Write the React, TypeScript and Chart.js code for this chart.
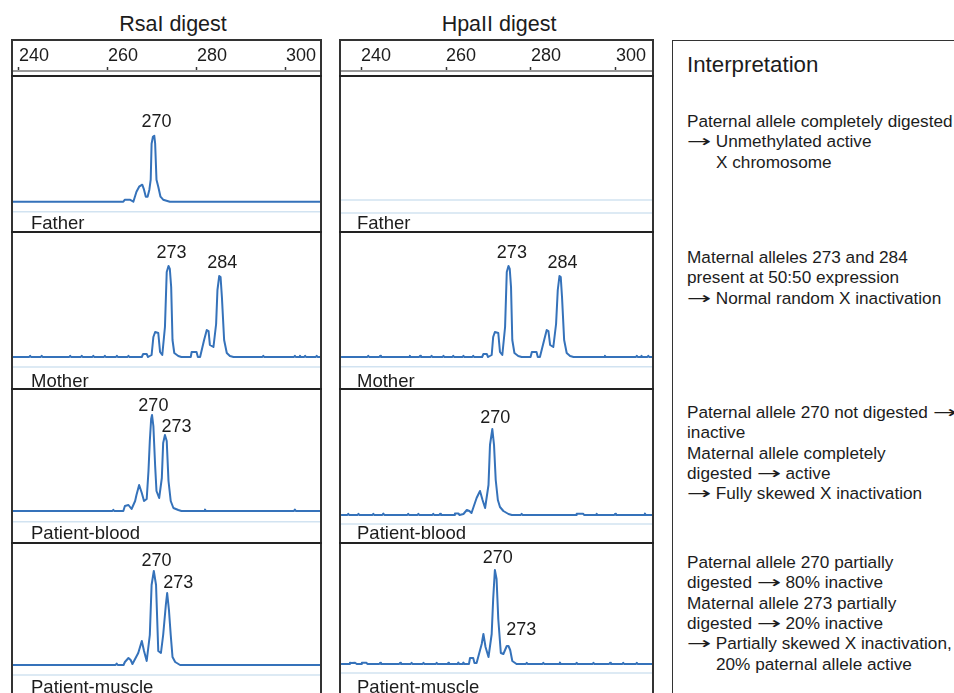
import React, { useEffect, useRef } from 'react';
import { Chart, registerables } from 'chart.js';

Chart.register(...registerables);

type Pt = [number, number];
type PeakLabel = { text: string; bp: number; rfu: number };

// ---------------- data ----------------
const TICKS = [240, 260, 280, 300];
const DIGESTS = ['RsaI digest', 'HpaII digest'];
const SAMPLES = ['Father', 'Mother', 'Patient-blood', 'Patient-muscle'];

// fragment size (bp) vs. signal height, RsaI digest
const rsaFather: Pt[] = [
  [238.4, 0], [263.45, 0], [263.8, 2], [264.9, 2], [265.7, 0], [266.4, 10], [267.0, 15], [267.7, 17],
  [268.1, 12], [268.5, 5], [268.9, 5], [269.3, 12], [269.6, 22], [269.8, 58], [270.1, 65], [270.4, 66],
  [270.6, 58], [270.9, 22], [271.3, 15], [271.8, 5], [272.4, 2], [273.9, 0], [307.9, 0],
];
const rsaMother: Pt[] = [
  [238.4, 0], [242.3, 0], [242.5, 1.2], [242.7, 0], [244.9, 0], [245.1, 1.2], [245.3, 0],
  [251.3, 0], [251.5, 1.2], [251.7, 0], [253.9, 0], [254.1, 1.2], [254.3, 0], [256.5, 0], [256.7, 1.2], [256.9, 0],
  [259.1, 0], [259.3, 1.2], [259.5, 0], [261.8, 0], [262.0, 1.2], [262.2, 0], [264.4, 0], [264.6, 1.2], [264.8, 0],
  [267.6, 0], [267.9, 3], [268.7, 3], [269.0, 0],
  [269.8, 2], [270.2, 20], [270.6, 25], [271.3, 24], [271.7, 5], [272.2, 2], [272.8, 30], [273.2, 85], [273.6, 91],
  [273.9, 88], [274.2, 70], [274.5, 17], [274.9, 4], [275.8, 1], [276.5, 0],
  [278.6, 0], [278.8, 5], [279.9, 5], [280.2, 0], [280.7, 0],
  [281.6, 17], [282.2, 27], [282.6, 26], [282.9, 12], [283.7, 10], [284.3, 33], [284.6, 67], [285.0, 81], [285.3, 80],
  [285.6, 60], [286.1, 17], [286.7, 4], [287.4, 1], [288.2, 0],
  [294.7, 0], [294.9, 1.2], [295.1, 0], [301.8, 0], [302.0, 1.2], [302.2, 0], [303.0, 0], [303.15, 1.2], [303.3, 0],
  [304.1, 0], [304.3, 1.2], [304.5, 0], [306.7, 0], [306.9, 1.2], [307.1, 0], [307.9, 0],
];
const rsaBlood: Pt[] = [
  [238.4, 0], [261.0, 0], [261.2, 1.2], [261.4, 0], [263.45, 0], [263.8, 5], [264.6, 6], [265.3, 2], [266.1, 10],
  [266.4, 16], [267.0, 26], [267.6, 18], [268.1, 10], [268.7, 12], [269.1, 40], [269.4, 70], [269.7, 92], [269.9, 96],
  [270.2, 85], [270.6, 45], [270.9, 20], [271.5, 13], [272.1, 33], [272.4, 68], [272.8, 76], [273.2, 70], [273.6, 30],
  [274.1, 10], [274.7, 3], [275.8, 1], [276.5, 0], [281.6, 0], [281.8, 1.5], [282.0, 0], [301.8, 0], [302.0, 1.5],
  [302.2, 0], [307.9, 0],
];
const rsaMuscle: Pt[] = [
  [238.4, 0], [261.7, 0], [261.95, 1.5], [262.2, 0], [263.5, 0], [263.8, 3], [264.6, 7], [265.1, 5], [265.5, 1],
  [266.8, 12], [267.6, 24], [268.1, 14], [268.7, 4], [269.4, 30], [269.8, 80], [270.3, 94], [270.8, 80], [271.3, 14],
  [271.9, 12], [272.4, 30], [273.0, 60], [273.3, 72], [273.7, 55], [274.1, 30], [274.5, 8], [275.1, 3], [276.2, 0],
  [307.9, 0],
];

// HpaII digest
const hpaFather: Pt[] = [[235.3, 0], [308.7, 0]];
const hpaMother: Pt[] = [
  [235.3, 0], [241.5, 0], [241.7, 1.2], [241.9, 0], [244.3, 0], [244.5, 1.2], [244.7, 0], [251.3, 0], [251.5, 1.2],
  [251.7, 0], [253.7, 0], [253.9, 1.2], [254.1, 0], [256.4, 0], [256.6, 1.2], [256.8, 0], [259.2, 0], [259.4, 1.2],
  [259.6, 0], [261.5, 0], [261.7, 1.2], [261.9, 0], [263.9, 0], [264.1, 1.2], [264.3, 0], [266.2, 0], [266.4, 1.2],
  [266.6, 0], [268.5, 0], [268.8, 3], [269.6, 3], [269.9, 0],
  [270.75, 2], [271.1, 20], [271.5, 25], [272.3, 24], [272.7, 5], [273.25, 2], [273.9, 30], [274.3, 85], [274.7, 91],
  [275.0, 88], [275.3, 70], [275.6, 17], [276.1, 4], [277.0, 1], [277.8, 0],
  [279.9, 0], [280.2, 5], [281.3, 5], [281.6, 0], [282.1, 0],
  [283.1, 17], [283.7, 27], [284.1, 26], [284.5, 12], [285.25, 10], [285.9, 33], [286.3, 67], [286.7, 81], [287.0, 80],
  [287.3, 60], [287.8, 17], [288.4, 4], [289.2, 1], [290.0, 0],
  [297.2, 0], [297.4, 1.2], [297.6, 0], [304.7, 0], [304.9, 1.2], [305.1, 0], [305.9, 0], [306.0, 1.2], [306.2, 0],
  [307.4, 0], [307.6, 1.2], [307.8, 0], [308.7, 0],
];
const hpaBlood: Pt[] = [
  [235.3, 0], [236.8, 0], [237.0, 1.2], [237.2, 0], [239.2, 0], [239.4, 1.2], [239.6, 0], [242.7, 0], [242.9, 1.2],
  [243.1, 0], [245.0, 0], [245.25, 1.5], [245.5, 0], [250.9, 0], [251.1, 1.2], [251.3, 0], [253.3, 0], [253.5, 1.2],
  [253.7, 0], [256.8, 0], [257.0, 1.2], [257.2, 0], [258.4, 0], [258.6, 1.2], [258.8, 0], [261.9, 0], [262.1, 1.5],
  [262.9, 1.5], [263.2, 0], [264.1, 1], [264.9, 5], [265.5, 4], [266.0, 2], [267.2, 17], [268.0, 24], [268.6, 15],
  [269.2, 7], [270.0, 30], [270.35, 70], [270.9, 86], [271.3, 70], [271.7, 35], [272.2, 15], [272.7, 8], [273.5, 4],
  [274.7, 1], [275.5, 0], [277.6, 0], [277.8, 1.2], [278.0, 0], [290.6, 0], [290.75, 1.2], [291.5, 1.2], [292.3, 1.2],
  [292.5, 0], [295.3, 0], [295.45, 1.2], [295.6, 0], [299.6, 0], [299.8, 1.2], [300.0, 0], [306.6, 0], [306.8, 1.5],
  [307.0, 0], [308.7, 0],
];
const hpaMuscle: Pt[] = [
  [235.3, 0], [237.2, 0], [237.4, 1.2], [237.8, 1], [238.6, 1.2], [239.0, 0], [240.0, 0], [240.2, 1.2], [241.3, 1.2],
  [241.5, 0], [244.3, 0], [244.5, 1.2], [244.7, 0], [249.0, 0], [249.2, 1.2], [249.4, 0], [251.7, 0], [251.9, 1.2],
  [252.1, 0], [254.5, 0], [254.7, 1.2], [254.9, 0], [257.6, 0], [257.8, 1.2], [258.0, 0], [260.4, 0], [260.55, 1.2],
  [260.7, 0], [262.7, 0], [262.9, 1.5], [263.1, 0], [263.9, 0], [264.1, 1.5], [264.3, 0], [265.4, 0], [265.65, 6],
  [266.4, 6], [266.7, 1], [267.2, 1], [268.4, 20], [268.8, 30], [269.3, 17], [270.0, 7], [270.75, 30], [271.1, 65],
  [271.5, 94], [271.9, 85], [272.3, 45], [272.9, 11], [273.5, 10], [274.3, 18], [274.7, 18], [275.1, 14], [275.6, 3],
  [276.6, 0], [278.8, 0], [279.0, 1.2], [279.2, 0], [282.7, 0], [282.9, 1.2], [283.1, 0], [286.6, 0], [286.8, 1.5],
  [287.0, 0], [290.5, 0], [290.75, 1.2], [291.0, 0], [294.5, 0], [294.7, 1.2], [294.9, 0], [298.4, 0], [298.6, 1.2],
  [298.8, 0], [301.5, 0], [301.7, 1.2], [301.9, 0], [304.7, 0], [304.9, 1.2], [305.1, 0], [308.7, 0],
];

const rsaTraces = [rsaFather, rsaMother, rsaBlood, rsaMuscle];
const hpaTraces = [hpaFather, hpaMother, hpaBlood, hpaMuscle];

const rsaPeakLabels: PeakLabel[][] = [
  [{ text: '270', bp: 270.9, rfu: 80 }],
  [{ text: '273', bp: 274.3, rfu: 104 }, { text: '284', bp: 285.7, rfu: 94 }],
  [{ text: '270', bp: 270.2, rfu: 105 }, { text: '273', bp: 275.4, rfu: 84 }],
  [{ text: '270', bp: 270.9, rfu: 104 }, { text: '273', bp: 275.8, rfu: 82 }],
];
const hpaPeakLabels: PeakLabel[][] = [
  [],
  [{ text: '273', bp: 275.5, rfu: 104 }, { text: '284', bp: 287.4, rfu: 94 }],
  [{ text: '270', bp: 271.6, rfu: 97 }],
  [{ text: '270', bp: 272.2, rfu: 106 }, { text: '273', bp: 277.7, rfu: 34 }],
];

const INTERP_TITLE = 'Interpretation';
const INTERP_BLOCKS: [string, boolean][][] = [
  [['Paternal allele completely digested', false], ['→ Unmethylated active', false], ['X chromosome', true]],
  [['Maternal alleles 273 and 284', false], ['present at 50:50 expression', false], ['→ Normal random X inactivation', false]],
  [
    ['Paternal allele 270 not digested →', false], ['inactive', false], ['Maternal allele completely', false],
    ['digested → active', false], ['→ Fully skewed X inactivation', false],
  ],
  [
    ['Paternal allele 270 partially', false], ['digested → 80% inactive', false], ['Maternal allele 273 partially', false],
    ['digested → 20% inactive', false], ['→ Partially skewed X inactivation,', false], ['20% paternal allele active', true],
  ],
];

// ---------------- layout / style ----------------
const FONT = '"Liberation Sans", Arial, Helvetica, sans-serif';
const TEXT = '#1c1c1c';
const BLUE = '#3572ba';
const GHOST = '#d2e3f1';
const FRAME = '#333333';

const ROWS = [76, 232, 389, 543, 700];
const NAME_Y = [223, 381, 533, 687];
const COLS = [
  {
    left: 12, width: 309, xMin: 238.43, xMax: 307.87, titleX: 173, frameLeft: 11, frameWidth: 311, nameX: 31,
    baselines: [201.7, 357, 511, 665], ghost: [-10, -10, -10.7, -10], faint: [false, false, false, false],
    traces: rsaTraces, labels: rsaPeakLabels,
  },
  {
    left: 341, width: 312, xMin: 235.29, xMax: 308.71, titleX: 499, frameLeft: 339, frameWidth: 315, nameX: 357,
    baselines: [200, 357, 515, 664], ghost: [-13, -9.7, -9, -9], faint: [true, false, false, false],
    traces: hpaTraces, labels: hpaPeakLabels,
  },
];
const BLOCK_Y = [121, 257, 412, 562];
const LINE_STEP = 20.3;

const peakLabelPlugin = {
  id: 'peakLabels',
  afterDatasetsDraw(chart: any, _args: any, opts: any) {
    const { ctx } = chart;
    const x = chart.scales.x;
    const y = chart.scales.y;
    ctx.save();
    ctx.font = `18px ${FONT}`;
    ctx.fillStyle = TEXT;
    ctx.textAlign = 'center';
    ctx.textBaseline = 'middle';
    for (const l of (opts.items || []) as PeakLabel[]) {
      ctx.fillText(l.text, x.getPixelForValue(l.bp), y.getPixelForValue(l.rfu));
    }
    ctx.restore();
  },
};

function TracePanel(props: {
  left: number; top: number; width: number; height: number; xMin: number; xMax: number;
  yMin: number; yMax: number; trace: Pt[]; ghostY: number; faint: boolean; labels: PeakLabel[];
}) {
  const ref = useRef<HTMLCanvasElement>(null);
  useEffect(() => {
    const p = props;
    const chart = new Chart(ref.current as HTMLCanvasElement, {
      type: 'line',
      data: {
        datasets: [
          {
            data: p.trace.map(([bp, v]) => ({ x: bp, y: v })),
            borderColor: p.faint ? GHOST : BLUE,
            borderWidth: p.faint ? 1.5 : 2,
            pointRadius: 0,
            tension: 0,
            borderJoinStyle: 'round',
          },
          {
            data: [{ x: p.xMin, y: p.ghostY }, { x: p.xMax, y: p.ghostY }],
            borderColor: GHOST,
            borderWidth: 1.5,
            pointRadius: 0,
          },
        ],
      },
      options: {
        animation: false,
        responsive: true,
        maintainAspectRatio: false,
        events: [],
        layout: { padding: 0 },
        plugins: {
          legend: { display: false },
          tooltip: { enabled: false },
          peakLabels: { items: p.labels },
        } as any,
        scales: {
          x: { type: 'linear', display: false, min: p.xMin, max: p.xMax },
          y: { type: 'linear', display: false, min: p.yMin, max: p.yMax },
        },
      },
      plugins: [peakLabelPlugin as any],
    });
    return () => chart.destroy();
  }, []);
  return (
    <div style={{ position: 'absolute', left: props.left, top: props.top, width: props.width, height: props.height }}>
      <canvas ref={ref} style={{ display: 'block' }} />
    </div>
  );
}

function AxisHeader(props: { left: number; width: number; xMin: number; xMax: number }) {
  const ref = useRef<HTMLCanvasElement>(null);
  useEffect(() => {
    const p = props;
    const chart = new Chart(ref.current as HTMLCanvasElement, {
      type: 'line',
      data: { datasets: [{ data: [] }] },
      options: {
        animation: false,
        responsive: true,
        maintainAspectRatio: false,
        events: [],
        layout: { padding: 0 },
        plugins: { legend: { display: false }, tooltip: { enabled: false } },
        scales: {
          x: {
            type: 'linear',
            position: 'top',
            min: p.xMin,
            max: p.xMax,
            afterBuildTicks: (s: any) => {
              s.ticks = TICKS.map((v) => ({ value: v }));
            },
            afterFit: (s: any) => {
              s.height = 31;
            },
            ticks: {
              align: 'start',
              padding: 0,
              maxRotation: 0,
              autoSkip: false,
              color: TEXT,
              font: { family: FONT, size: 18 },
            },
            grid: { drawOnChartArea: false, drawTicks: true, tickLength: 4, tickColor: '#333', tickWidth: 1.5 },
            border: { display: true, color: '#9a9a9a', width: 2 },
          } as any,
          y: { display: false, min: 0, max: 1 },
        },
      },
    });
    return () => chart.destroy();
  }, []);
  return (
    <div style={{ position: 'absolute', left: props.left, top: 40, width: props.width, height: 36 }}>
      <canvas ref={ref} style={{ display: 'block' }} />
    </div>
  );
}

const arrowStyle: React.CSSProperties = {
  display: 'inline-block',
  width: 24,
  textAlign: 'center',
  fontFamily: '"DejaVu Sans", sans-serif',
  transform: 'scaleX(1.7)',
};

function renderLine(text: string) {
  const parts = text.split('→');
  const out: React.ReactNode[] = [];
  parts.forEach((part, i) => {
    if (i > 0) out.push(<span key={'a' + i} style={arrowStyle}>→</span>);
    if (part) out.push(<span key={'t' + i}>{part}</span>);
  });
  return out;
}

export default function App() {
  const abs = (s: React.CSSProperties): React.CSSProperties => ({ position: 'absolute', ...s });
  return (
    <div
      style={{
        position: 'absolute', left: 0, top: 0, width: 954, height: 693, overflow: 'hidden',
        background: '#fff', fontFamily: FONT, color: TEXT,
      }}
    >
      {COLS.map((col, ci) => (
        <React.Fragment key={ci}>
          <div style={abs({ left: col.titleX - 100, top: 12, width: 200, lineHeight: '24px', fontSize: 21.5, textAlign: 'center' })}>
            {DIGESTS[ci]}
          </div>
          <AxisHeader left={col.left} width={col.width} xMin={col.xMin} xMax={col.xMax} />
          {SAMPLES.map((name, ri) => {
            const top = ROWS[ri];
            const bottom = ROWS[ri + 1];
            const base = col.baselines[ri];
            return (
              <TracePanel
                key={ri}
                left={col.left}
                top={top}
                width={col.width}
                height={bottom - top}
                xMin={col.xMin}
                xMax={col.xMax}
                yMin={-(bottom - base)}
                yMax={base - top}
                trace={col.traces[ri]}
                ghostY={col.ghost[ri]}
                faint={col.faint[ri]}
                labels={col.labels[ri]}
              />
            );
          })}
          {SAMPLES.map((name, ri) => (
            <div key={'n' + ri} style={abs({ left: col.nameX, top: NAME_Y[ri] - 10, lineHeight: '20px', fontSize: 18.5, whiteSpace: 'nowrap' })}>
              {name}
            </div>
          ))}
          <div
            style={abs({
              left: col.frameLeft, top: 39, width: col.frameWidth, height: 700, border: `2px solid ${FRAME}`,
              boxSizing: 'border-box', pointerEvents: 'none',
            })}
          />
          {ROWS.slice(0, 4).map((y, i) => (
            <div key={'s' + i} style={abs({ left: col.frameLeft, top: y - 1, width: col.frameWidth, height: 2, background: '#222' })} />
          ))}
        </React.Fragment>
      ))}

      <div style={abs({ left: 672, top: 40, width: 320, height: 700, borderLeft: `1.5px solid ${FRAME}`, borderTop: `1.5px solid ${FRAME}` })} />
      <div style={abs({ left: 687, top: 53, lineHeight: '24px', fontSize: 22.3, whiteSpace: 'nowrap' })}>{INTERP_TITLE}</div>
      {INTERP_BLOCKS.map((block, bi) =>
        block.map(([text, indent], li) => (
          <div
            key={bi + '-' + li}
            style={abs({
              left: indent ? 716 : 687, top: BLOCK_Y[bi] + li * LINE_STEP - 10, lineHeight: '20px', fontSize: 17.2,
              whiteSpace: 'pre',
            })}
          >
            {renderLine(text)}
          </div>
        )),
      )}
    </div>
  );
}
